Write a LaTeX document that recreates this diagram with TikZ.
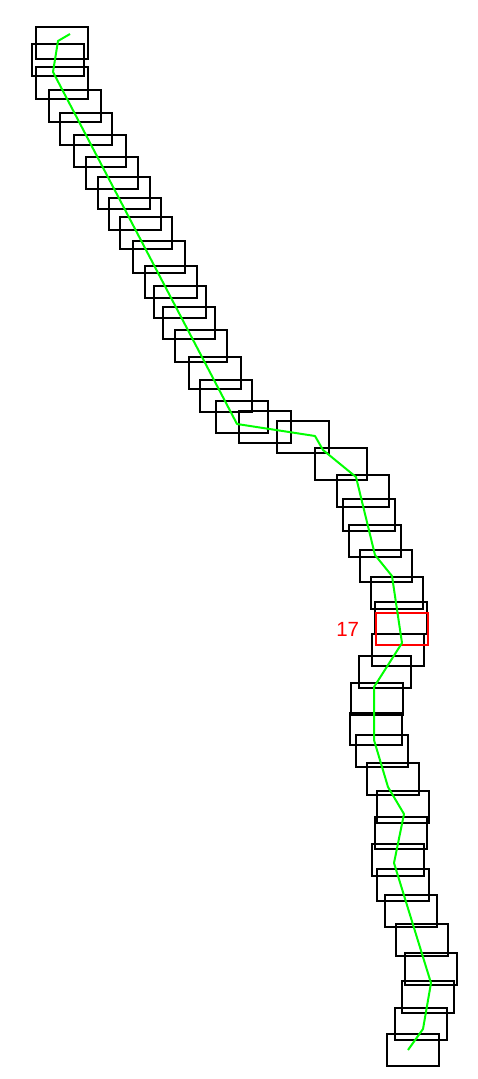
\documentclass[tikz,border=0pt]{standalone}
\usepackage{fontspec}
\setmainfont{Liberation Sans}
\usetikzlibrary{positioning}

\begin{document}
\begin{tikzpicture}[x=1pt,y=-1pt,
  frame/.style={draw,line width=2pt,minimum width=51.5pt,minimum height=31.5pt,inner sep=0pt,outer sep=0pt},
  track/.style={draw={rgb,255:red,0;green,255;blue,0},line width=2pt,line join=round}]
  \useasboundingbox (0,0) rectangle (477,1079);
  % frames, counted from the bottom
  \foreach \cx/\cy [count=\i] in {413/1050,421/1024,428/997,431/969,422/940,411/911,403/885,398/860,
      401/833,403/807,393/779,382/751,376/729,377/699,385/672,398/650,402/629,401/618,397/593,
      386/566,375/541,369/515,363/491,341/464,303/437,265/427,242/417,226/396,215/373,201/346,
      189/323,180/302,171/282,159/257,146/233,135/214,124/193,112/173,100/151,86/129,75/106,
      62/83,58/60,62/43}{
    \ifnum\i=17\else
      \node[frame] (f\i) at (\cx,\cy) {};
    \fi
  }
  \node[frame,draw=red] (f17) at (402,629) {};
  \node[text=red,font=\fontsize{20.5}{24}\selectfont,left=17pt of f17,inner sep=0pt] (lab17) {17};
  % track through the frames
  \draw[track] (408,1050)--(423,1029)--(431,983)--(394,863)--(404,814)--(388,787)--(374,740)
    --(374,687)--(402,643)--(392,576)--(375,555)--(356,477)--(323,450)--(315,436)--(237,424)
    --(53,72)--(58,41)--(70,34);
\end{tikzpicture}
\end{document}
